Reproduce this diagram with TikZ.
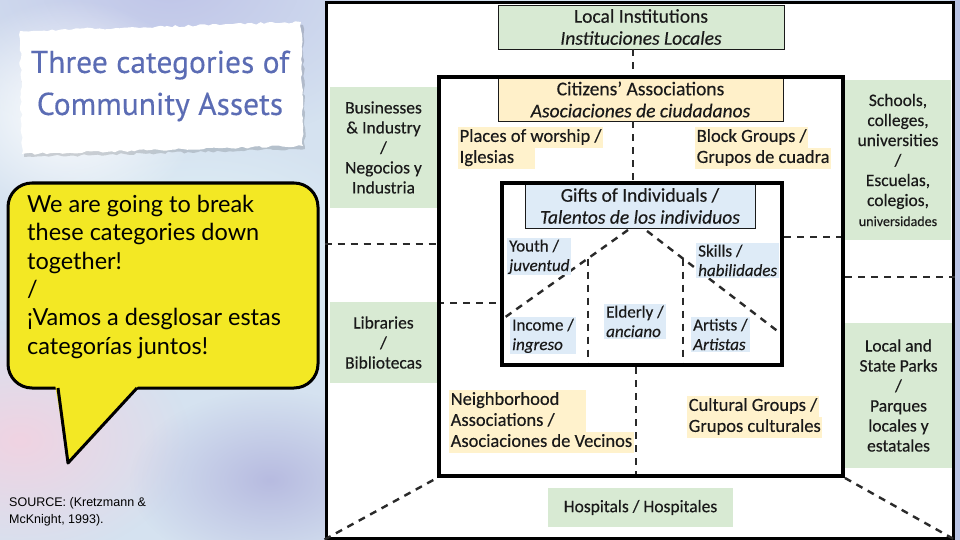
\documentclass[tikz,border=0pt]{standalone}
\usepackage{fontspec}
\setmainfont{Carlito}[FakeBold=0.35]
\newfontfamily\bubblefont{Lato}
\newfontfamily\titlefont{PT Sans}[FakeBold=0.3]
\newfontfamily\srcfont{Liberation Sans}
\usetikzlibrary{fadings,decorations.pathmorphing}
\definecolor{bgbase}{HTML}{D5E2F0}
\definecolor{textc}{HTML}{1A1A1A}
\definecolor{greenc}{HTML}{D8EAD3}
\definecolor{yelc}{HTML}{FFF2CC}
\definecolor{citc}{HTML}{FFF0C9}
\definecolor{bluec}{HTML}{DEEBF7}
\definecolor{dashc}{HTML}{2A2A2A}
\definecolor{bubc}{HTML}{F3E824}
\definecolor{titlec}{HTML}{5B6CB4}
\definecolor{lavc}{HTML}{BFC4E8}
\definecolor{cyanc}{HTML}{E2F3F8}
\definecolor{pinkc}{HTML}{F0D3E2}
\definecolor{purpc}{HTML}{B7BBE0}
\definecolor{rightc}{HTML}{B9C3E4}
\tikzfading[name=softfade, inner color=transparent!0, outer color=transparent!100]
\newcommand{\yhl}[1]{{\setlength{\fboxsep}{0pt}\colorbox{yelc}{\strut\hspace{1.5pt}#1\hspace{1.5pt}}}}
\begin{document}
\begin{tikzpicture}[x=1pt,y=-1pt,
  dashline/.style={draw=dashc, line width=2.4pt, dash pattern=on 7pt off 6pt},
  greenbox/.style={fill=greenc, align=center, inner sep=0pt, text=textc, font=\fontsize{17.5}{20}\selectfont},
  hdrbox/.style={draw=textc, line width=0.9pt, align=center, inner sep=0pt, text=textc, font=\fontsize{19.5}{22}\selectfont},
  framebox/.style={draw=black, inner sep=0pt},
  lbl/.style={anchor=north west, align=left, inner sep=0pt, text=textc, font=\fontsize{18.5}{21}\selectfont},
  blbl/.style={anchor=north west, align=left, fill=bluec, inner xsep=2pt, inner ysep=1.5pt, text=textc, font=\fontsize{17}{19.5}\selectfont}]
\useasboundingbox (0,0) rectangle (960,540);
% background
\fill[bgbase] (0,0) rectangle (960,540);
\fill[lavc, path fading=softfade] (170,-20) ellipse (260pt and 170pt);
\fill[cyanc, path fading=softfade] (200,260) ellipse (200pt and 130pt);
\fill[white, path fading=softfade] (70,110) ellipse (130pt and 110pt);
\fill[pinkc, path fading=softfade] (20,440) ellipse (170pt and 120pt);
\fill[purpc, path fading=softfade] (270,480) ellipse (140pt and 90pt);
\fill[rightc] (950,0) rectangle (960,540);
% title paper
\fill[black, opacity=0.15, decorate, decoration={random steps, segment length=4pt, amplitude=1.2pt}] (22,34) -- (303,25) -- (305,149) -- (24,157) -- cycle;
\fill[white, decorate, decoration={random steps, segment length=4pt, amplitude=1.2pt}] (20,31) -- (301,22) -- (303,146) -- (22,154) -- cycle;
\node[align=center, text=titlec, font=\titlefont\fontsize{31.5}{42}\selectfont] (title) at (160,86) {Three categories of\\Community Assets};
% speech bubble
\draw[line width=3pt, fill=bubc, rounded corners=24pt] (8,183) rectangle (318,388);
\fill[bubc] (55,384) -- (68,463) -- (140,384) -- cycle;
\draw[line width=3pt, line join=round] (58,388) -- (68,463) -- (137,388);
\node[anchor=north west, align=left, inner sep=0pt, text=black, font=\bubblefont\fontsize{23.5}{28.3}\selectfont] (bubbletext) at (27,195) {We are going to break\\these categories down\\together!\\/\\¡Vamos a desglosar estas\\categorías juntos!};
% source
\node[anchor=north west, align=left, inner sep=0pt, text=black, font=\srcfont\fontsize{12.5}{17}\selectfont] (source) at (9,497) {SOURCE: (Kretzmann \&\\McKnight, 1993).};
% diagram frame
\node[framebox, line width=3pt, fill=white, minimum width=627pt, minimum height=535pt] (outer) at (639.5,270.5) {};
% green boxes
\node[greenbox, minimum width=107pt, minimum height=120pt] (business) at (383.5,147.5) {Businesses\\\& Industry\\/\\Negocios y\\Industria};
\node[greenbox, minimum width=107pt, minimum height=81pt] (libraries) at (383.5,342.5) {Libraries\\/\\Bibliotecas};
\node[greenbox, minimum width=106pt, minimum height=160pt] (schools) at (898,160) {Schools,\\colleges,\\universities\\/\\Escuelas,\\colegios,\\{\fontsize{14}{16}\selectfont universidades}};
\node[greenbox, minimum width=107pt, minimum height=145pt] (parks) at (898.5,395.5) {Local and\\State Parks\\/\\Parques\\locales y\\estatales};
\node[greenbox, minimum width=185pt, minimum height=39pt] (hospitals) at (640.5,507.5) {Hospitals / Hospitales};
% nested boxes (geometry)
\node[framebox, line width=4pt, minimum width=404pt, minimum height=399pt] (mid) at (641,276.5) {};
\node[framebox, line width=4pt, minimum width=280pt, minimum height=182pt] (inner) at (642,274) {};
\node[hdrbox, fill=greenc, minimum width=286pt, minimum height=44pt] (locinst) at (641,27) {Local Institutions\\\textit{Instituciones Locales}};
\node[hdrbox, fill=citc, minimum width=285pt, minimum height=43pt] (citizens) at (640.5,99.5) {Citizens’ Associations\\\textit{Asociaciones de ciudadanos}};
\node[hdrbox, fill=bluec, minimum width=230pt, minimum height=44pt] (gifts) at (640,206) {Gifts of Individuals /\\\textit{Talentos de los individuos}};
% dashed connectors
\coordinate (vx1) at (633,0);
\coordinate (vx2) at (636,0);
\coordinate (hy1) at (0,244);
\coordinate (hy2) at (0,303);
\coordinate (hy3) at (0,237);
\coordinate (hy4) at (0,277);
\draw[dashline] (locinst.south -| vx1) -- (mid.north -| vx1);
\draw[dashline] (citizens.south -| vx1) -- (inner.north -| vx1);
\draw[dashline] (inner.south -| vx2) -- (mid.south -| vx2);
\draw[dashline] (outer.west |- hy1) -- (mid.west |- hy1);
\draw[dashline] (mid.west |- hy2) -- (inner.west |- hy2);
\draw[dashline] (inner.east |- hy3) -- (mid.east |- hy3);
\draw[dashline] (mid.east |- hy4) -- (outer.east |- hy4);
\draw[dashline] (outer.south west) -- (mid.south west);
\draw[dashline] (mid.south east) -- (outer.south east);
\coordinate (apexL) at (628,230);
\coordinate (apexR) at (647,231);
\coordinate (footL) at (504,318);
\coordinate (footR) at (780,333);
\coordinate (kneeL) at (588,258.5);
\coordinate (kneeR) at (683,258.6);
\draw[dashline] (apexL) -- (footL);
\draw[dashline] (apexR) -- (footR);
\draw[dashline] (kneeL) -- (kneeL |- inner.south);
\draw[dashline] (kneeR) -- (kneeR |- inner.south);
% redraw borders on top of dash ends
\node[framebox, line width=4pt, minimum width=404pt, minimum height=399pt] (midb) at (641,276.5) {};
\node[framebox, line width=4pt, minimum width=280pt, minimum height=182pt] (innerb) at (642,274) {};
% yellow labels
\node[lbl] (worship) at (458,127) {\yhl{Places of worship /}\\\yhl{\makebox[74pt][l]{Iglesias}}};
\node[lbl] (block) at (695,127) {\yhl{Block Groups /}\\\yhl{Grupos de cuadra}};
\node[lbl] (neigh) at (449,390) {\yhl{\makebox[134pt][l]{Neighborhood}}\\\yhl{\makebox[134pt][l]{Associations /}}\\\yhl{Asociaciones de Vecinos}};
\node[lbl] (cultural) at (687,396) {\yhl{Cultural Groups /}\\\yhl{Grupos culturales}};
% blue labels
\node[blbl] (youth) at (507,238) {Youth /\\\textit{juventud}};
\node[blbl] (skills) at (696,243) {Skills /\\\textit{habilidades}};
\node[blbl] (income) at (510,317) {Income /\\\textit{ingreso}};
\node[blbl] (elderly) at (604,304) {Elderly /\\\textit{anciano}};
\node[blbl] (artists) at (691,317) {Artists /\\\textit{Artistas}};
\end{tikzpicture}
\end{document}
